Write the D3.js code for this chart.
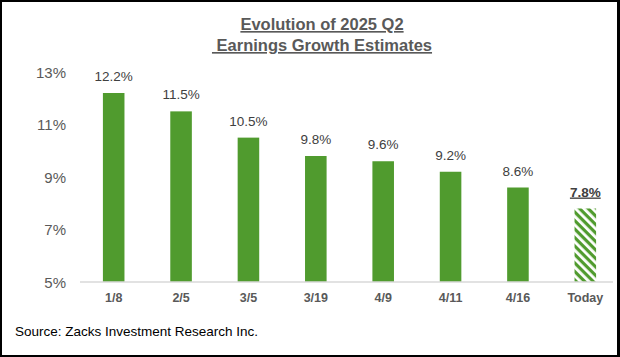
<!DOCTYPE html>
<html>
<head>
<meta charset="utf-8">
<script src="https://cdn.jsdelivr.net/npm/d3@7"></script>
<style>
  html, body { margin: 0; padding: 0; background: #fff; }
  svg { display: block; }
</style>
</head>
<body>
<script>
const categories = ["1/8", "2/5", "3/5", "3/19", "4/9", "4/11", "4/16", "Today"];
const values = [12.2, 11.5, 10.5, 9.8, 9.6, 9.2, 8.6, 7.8];
const yTicks = [5, 7, 9, 11, 13];
const titleLines = ["Evolution of 2025 Q2", " Earnings Growth Estimates"];
const sourceText = "Source: Zacks Investment Research Inc.";

const W = 620, H = 357;
const green = "#509b2e";
const svg = d3.select("body").append("svg").attr("width", W).attr("height", H);

const defs = svg.append("defs");
const pat = defs.append("pattern").attr("id", "hatch")
  .attr("patternUnits", "userSpaceOnUse").attr("width", 6).attr("height", 6)
  .attr("patternTransform", "rotate(45)");
pat.append("rect").attr("width", 6).attr("height", 6).attr("fill", "#fff");
pat.append("rect").attr("width", 6).attr("height", 3.2).attr("fill", green);

// frame
svg.append("rect").attr("x", 0).attr("y", 0).attr("width", W).attr("height", H).attr("fill", "#000");
svg.append("rect").attr("x", 2).attr("y", 2).attr("width", 615).attr("height", 353).attr("fill", "#fff");

const x = d3.scaleBand().domain(categories).range([80, 619]).paddingInner(0.68).paddingOuter(0.34);
const y = d3.scaleLinear().domain([5, 13]).range([282, 72]);

// y tick labels
const yAxis = d3.axisLeft(y).tickValues(yTicks).tickFormat(d => d + "%").tickSize(0).tickPadding(0);
const ya = svg.append("g").attr("transform", "translate(66,0)").call(yAxis);
ya.select(".domain").remove();
ya.selectAll("text").attr("font-family", "Liberation Sans, Arial, sans-serif")
  .attr("font-size", 15).attr("fill", "#595959").attr("dy", "0.35em");

// bars
svg.append("g").selectAll("rect").data(values).join("rect")
  .attr("x", (d, i) => x(categories[i]))
  .attr("width", x.bandwidth())
  .attr("y", d => y(d))
  .attr("height", d => y(5) - y(d))
  .attr("fill", (d, i) => categories[i] === "Today" ? "url(#hatch)" : green);

// baseline
svg.append("line").attr("x1", 80).attr("x2", 613).attr("y1", y(5)).attr("y2", y(5))
  .attr("stroke", "#d9d9d9").attr("stroke-width", 1.5);

// value labels
svg.append("g").selectAll("text").data(values).join("text")
  .attr("x", (d, i) => x(categories[i]) + x.bandwidth() / 2)
  .attr("y", d => y(d) - 12)
  .attr("text-anchor", "middle")
  .attr("font-family", "Liberation Sans, Arial, sans-serif")
  .attr("font-size", 13.5)
  .attr("font-weight", (d, i) => categories[i] === "Today" ? "bold" : "normal")
  .attr("text-decoration", (d, i) => categories[i] === "Today" ? "underline" : "none")
  .attr("fill", "#404040")
  .text(d => d.toFixed(1) + "%");

// category labels
const xAxis = d3.axisBottom(x).tickSize(0).tickPadding(0);
const xa = svg.append("g").attr("transform", `translate(0,${y(5) + 20})`).call(xAxis);
xa.select(".domain").remove();
xa.selectAll("text").attr("font-family", "Liberation Sans, Arial, sans-serif")
  .attr("font-size", 12.5).attr("font-weight", "bold").attr("fill", "#595959").attr("dy", "0");

// title
const t = svg.append("text").attr("text-anchor", "middle")
  .attr("font-family", "Liberation Sans, Arial, sans-serif")
  .attr("font-size", 16.5).attr("font-weight", "bold").attr("fill", "#595959")
  .attr("text-decoration", "underline").attr("xml:space", "preserve");
titleLines.forEach((s, i) => {
  t.append("tspan").attr("x", 322).attr("y", 30 + i * 21).text(s);
});

// source
svg.append("text").attr("x", 15).attr("y", 336)
  .attr("font-family", "Liberation Sans, Arial, sans-serif")
  .attr("font-size", 13.5).attr("fill", "#000").text(sourceText);
</script>
</body>
</html>
